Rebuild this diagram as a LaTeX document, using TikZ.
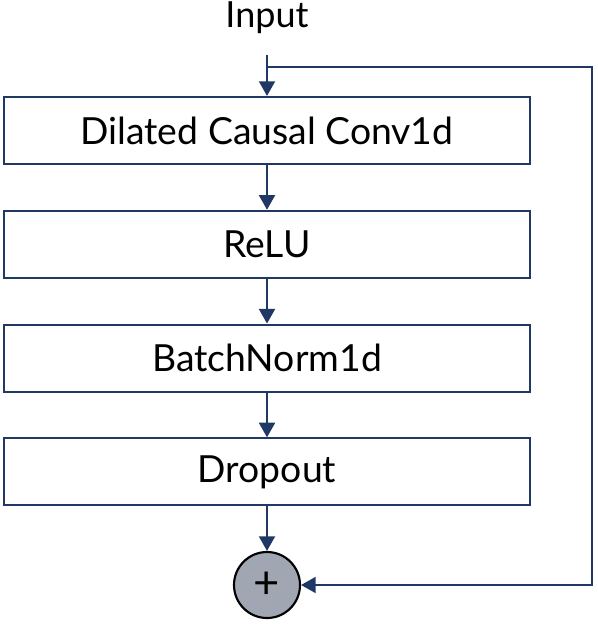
\documentclass[tikz,border=0pt]{standalone}
\usepackage{fontspec}
\setmainfont{Lato}
\usetikzlibrary{positioning,arrows.meta}
\definecolor{navy}{HTML}{1F3864}
\definecolor{addgray}{HTML}{A0A7B2}

\begin{document}
\begin{tikzpicture}[x=0.75pt,y=-0.75pt,
      node distance=33.5pt,
      block/.style={draw=navy, line width=1.6pt, minimum width=394.5pt,
                    minimum height=50.25pt, font=\fontsize{28}{30}\selectfont},
      addnode/.style={draw=black, line width=1.6pt, circle, fill=addgray,
                      minimum size=49.5pt, inner sep=0pt, font=\fontsize{34}{36}\selectfont},
      arrow/.style={draw=navy, line width=1.6pt, -{Triangle[width=12pt,length=11pt]}}]
    \useasboundingbox (0,0) rectangle (597,624);
    \node[font=\fontsize{27}{30}\selectfont] (input) at (267,18) {Input};
    \node[block] (conv) at (267,130.5) {Dilated Causal Conv1d};
    \node[block, below=of conv] (relu) {ReLU};
    \node[block, below=of relu] (bnorm) {BatchNorm1d};
    \node[block, below=of bnorm] (drop) {Dropout};
    \node[addnode] (add) at (267,585) {+};
    \coordinate (split) at (267,67);
    \coordinate (corner) at (592,67);
    % main path
    \draw[arrow, shorten <=12pt] (input) -- (conv);
    \draw[arrow] (conv) -- (relu);
    \draw[arrow] (relu) -- (bnorm);
    \draw[arrow] (bnorm) -- (drop);
    \draw[arrow] (drop) -- (add);
    % residual connection
    \draw[arrow] (split) -- (corner) |- (add);
\end{tikzpicture}
\end{document}
